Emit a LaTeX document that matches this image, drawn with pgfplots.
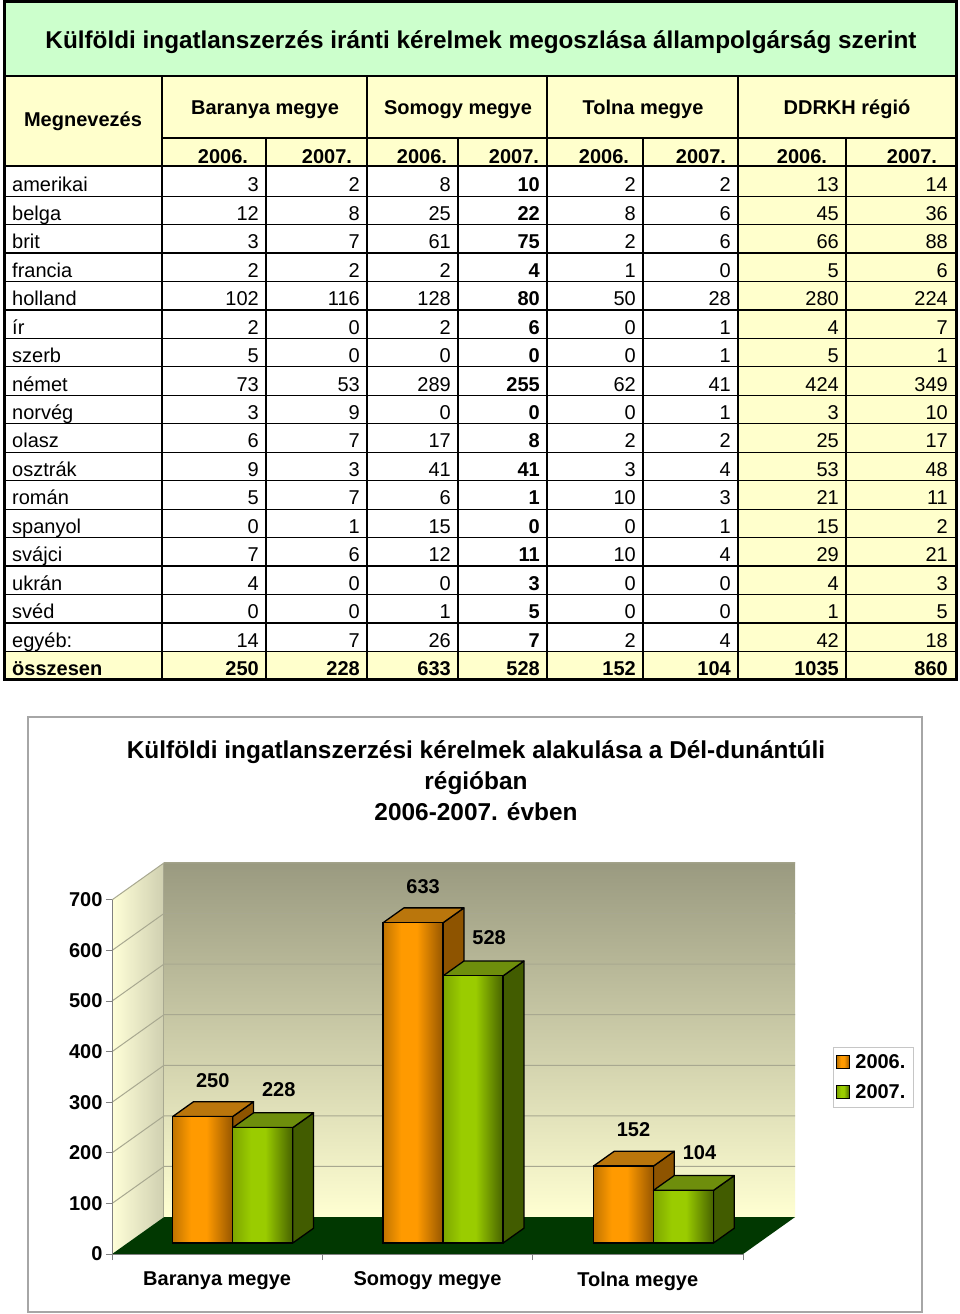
\documentclass[border=0pt]{standalone}
\usepackage{fontspec}
\setmainfont{Liberation Sans}
\usepackage{pgfplots}
\pgfplotsset{compat=1.18}
\definecolor{tgreen}{HTML}{CCFFCC}
\definecolor{tyel}{HTML}{FFFFCC}
\definecolor{wallT}{HTML}{9A9A80}
\definecolor{wallM}{HTML}{E6E6BC}
\definecolor{wallB}{HTML}{FFFFD2}
\definecolor{lwL}{HTML}{FFFFD8}
\definecolor{lwM}{HTML}{F4F4CC}
\definecolor{lwR}{HTML}{CFCFB0}
\definecolor{floorc}{HTML}{013801}
\definecolor{gridc}{HTML}{A8A890}
\definecolor{orL}{HTML}{C07400}
\definecolor{orM}{HTML}{FF9A00}
\definecolor{orR}{HTML}{965600}
\definecolor{orTop}{HTML}{BA760C}
\definecolor{orSide}{HTML}{8E5400}
\definecolor{grL}{HTML}{7DA600}
\definecolor{grM}{HTML}{9ACC00}
\definecolor{grR}{HTML}{466200}
\definecolor{grTop}{HTML}{6E8E0C}
\definecolor{grSide}{HTML}{425C00}

% front faces: dark left edge, wide bright band, dark right edge
\pgfdeclarehorizontalshading{orshade}{100bp}{color(0bp)=(orL); color(25bp)=(orL);
  color(40bp)=(orM); color(53bp)=(orM); color(75bp)=(orR); color(100bp)=(orR)}
\pgfdeclarehorizontalshading{grshade}{100bp}{color(0bp)=(grL); color(25bp)=(grL);
  color(40bp)=(grM); color(52bp)=(grM); color(75bp)=(grR); color(100bp)=(grR)}

\newcommand\bigfont{\fontsize{20}{24}\selectfont}

% side and top faces of one 3D bar: left x, value, top colour, side colour
\newcommand\bartd[4]{%
  \pgfmathsetmacro\xa{#1}%
  \pgfmathsetmacro\xb{#1+0.2853}%
  \pgfmathsetmacro\xc{#1+0.0989}%
  \pgfmathsetmacro\xd{#1+0.3842}%
  \pgfmathsetmacro\ya{#2}%
  \pgfmathsetmacro\yc{#2+29.25}%
  \edef\tmp{%
    \noexpand\addplot[forget plot, fill=#4, draw=black, line width=1.3pt, line join=round]
      coordinates {(\xb,0) (\xd,29.25) (\xd,\yc) (\xb,\ya)} -- cycle;%
    \noexpand\addplot[forget plot, fill=#3, draw=black, line width=1.3pt, line join=round]
      coordinates {(\xa,\ya) (\xb,\ya) (\xd,\yc) (\xc,\yc)} -- cycle;%
  }\tmp}

\begin{document}
\begin{tikzpicture}[x=1pt,y=1pt,every node/.append style={font=\bigfont}]
\fill[white] (0,0) rectangle (960,1314);

% ---------- table ----------
\fill[tgreen] (4,1312) rectangle (956,1238);
\fill[tyel] (4,1238) rectangle (956,1148);
\fill[tyel] (738,1148) rectangle (956,634.1);
\fill[tyel] (4,662.55) rectangle (956,634.1);

\node[anchor=base,font=\fontsize{24.3}{28}\selectfont\bfseries] at (481,1265.3)
  {Külföldi ingatlanszerzés iránti kérelmek megoszlása állampolgárság szerint};
\node[anchor=base,font=\bigfont\bfseries] at (83,1187) {Megnevezés};
\node[anchor=base,font=\bigfont\bfseries] at (265,1199) {Baranya megye};
\node[anchor=base,font=\bigfont\bfseries] at (458,1199) {Somogy megye};
\node[anchor=base,font=\bigfont\bfseries] at (643,1199) {Tolna megye};
\node[anchor=base,font=\bigfont\bfseries] at (847,1199) {DDRKH régió};
\foreach \xx/\yy in {223/2006.,327/2007.,422/2006.,514/2007.,604/2006.,701/2007.,802/2006.,912/2007.}
  \node[anchor=base,inner sep=0,font=\bigfont\bfseries] at (\xx,1150.5) {\yy};

\foreach \n/\a/\b/\c/\d/\e/\f/\g/\h [count=\i from 0] in {
  amerikai/3/2/8/10/2/2/13/14,
  belga/12/8/25/22/8/6/45/36,
  brit/3/7/61/75/2/6/66/88,
  francia/2/2/2/4/1/0/5/6,
  holland/102/116/128/80/50/28/280/224,
  ír/2/0/2/6/0/1/4/7,
  szerb/5/0/0/0/0/1/5/1,
  német/73/53/289/255/62/41/424/349,
  norvég/3/9/0/0/0/1/3/10,
  olasz/6/7/17/8/2/2/25/17,
  osztrák/9/3/41/41/3/4/53/48,
  román/5/7/6/1/10/3/21/11,
  spanyol/0/1/15/0/0/1/15/2,
  svájci/7/6/12/11/10/4/29/21,
  ukrán/4/0/0/3/0/0/4/3,
  svéd/0/0/1/5/0/0/1/5,
  egyéb:/14/7/26/7/2/4/42/18}{
  \pgfmathsetmacro\yb{1314-(196.2+28.45*\i-4.3)}
  \node[anchor=base west,inner sep=0] at (12,\yb) {\n};
  \node[anchor=base east,inner sep=0] at (259,\yb) {\a};
  \node[anchor=base east,inner sep=0] at (360,\yb) {\b};
  \node[anchor=base east,inner sep=0] at (451,\yb) {\c};
  \node[anchor=base east,inner sep=0,font=\bigfont\bfseries] at (540,\yb) {\d};
  \node[anchor=base east,inner sep=0] at (636,\yb) {\e};
  \node[anchor=base east,inner sep=0] at (731,\yb) {\f};
  \node[anchor=base east,inner sep=0] at (839,\yb) {\g};
  \node[anchor=base east,inner sep=0] at (948,\yb) {\h};
}
\begin{scope}[every node/.append style={font=\bigfont\bfseries,inner sep=0}]
  \pgfmathsetmacro\yb{1314-(196.2+28.45*17-4.3)}
  \node[anchor=base west] at (12,\yb) {összesen};
  \foreach \xx/\v in {259/250,360/228,451/633,540/528,636/152,731/104,839/1035,948/860}
    \node[anchor=base east] at (\xx,\yb) {\v};
\end{scope}

\foreach \i in {0,...,16}
  \draw[line width=1.2pt] (4,{1314-(196.2+28.45*\i)}) -- (956,{1314-(196.2+28.45*\i)});
\draw[line width=1.5pt] (162,1176) -- (956,1176);
\draw[line width=2.5pt] (4,1148) -- (956,1148);
\draw[line width=2.5pt] (4,1238) -- (956,1238);
\foreach \xx in {162,367,547,738} \draw[line width=2pt] (\xx,1238) -- (\xx,634);
\foreach \xx in {266,458,643,846} \draw[line width=2pt] (\xx,1176) -- (\xx,634);
\draw[line width=3pt] (4,1312) rectangle (956,634);

% ---------- chart ----------
\draw[gray!70,line width=1.5pt] (28,2) rectangle (922,597);
\begin{scope}[every node/.append style={font=\fontsize{24.4}{28}\selectfont\bfseries}]
  \node[anchor=base] at (476,555) {Külföldi ingatlanszerzési kérelmek alakulása a Dél-dunántúli};
  \node[anchor=base] at (476,524) {régióban};
  \node[anchor=base] at (476,493) {2006-2007. évben};
\end{scope}

\begin{axis}[
  at={(112pt,59.9pt)}, anchor=south west,
  scale only axis, width=631pt, height=354.2pt,
  xmin=-0.5, xmax=2.5, ymin=-21.94, ymax=678.06,
  clip=false, axis on top, no markers,
  axis x line*=bottom, axis y line*=left,
  axis line style={draw=gray, line width=1pt},
  xtick={-0.5,0.5,1.5,2.5}, x tick label as interval,
  xticklabels={Baranya megye, Somogy megye, Tolna megye},
  xticklabel style={yshift=-8pt},
  ytick={-21.94,78.06,178.06,278.06,378.06,478.06,578.06,678.06},
  yticklabels={0,100,200,300,400,500,600,700},
  tick align=outside, major tick length=6pt,
  every tick/.style={draw=gray, line width=1pt},
  ticklabel style={font=\bigfont\bfseries},
  /pgf/number format/assume math mode=true,
  legend style={at={(rel axis cs:1.1426,0.5844)}, anchor=north west,
    draw=gray!45, line width=0.8pt, nodes={font=\bigfont\bfseries, inner xsep=5pt},
    inner xsep=3pt, inner ysep=5pt, row sep=11pt},
  legend cell align=left,
]
% walls and floor
\addplot[forget plot, draw=none, top color=wallT, middle color=wallM, bottom color=wallB]
  coordinates {(-0.2528,51.18) (2.7472,51.18) (2.7472,751.18) (-0.2528,751.18)} -- cycle;
\addplot[forget plot, draw=none, left color=lwL, middle color=lwM, right color=lwR]
  coordinates {(-0.5,-21.94) (-0.2528,51.18) (-0.2528,751.18) (-0.5,678.06)} -- cycle;
\addplot[forget plot, fill=floorc, draw=none]
  coordinates {(-0.5,-21.94) (2.5,-21.94) (2.7472,51.18) (-0.2528,51.18)} -- cycle;
\pgfplotsinvokeforeach{1,...,7}{
  \draw[gridc, line width=1pt] (axis cs:-0.5,{-21.94+100*#1}) -- (axis cs:-0.2528,{51.18+100*#1}) -- (axis cs:2.7472,{51.18+100*#1});
}
\draw[gridc, line width=1pt] (axis cs:-0.2528,51.18) -- (axis cs:-0.2528,751.18);

% bars: 2006 then 2007 for each county
\bartd{-0.2111}{250}{orTop}{orSide}
\addplot[forget plot, ybar, bar width=0.2853, bar shift=0pt, draw=black, line width=1.3pt,
  shading=orshade] coordinates {(-0.0684,250)};
\bartd{0.0742}{228}{grTop}{grSide}
\addplot[forget plot, ybar, bar width=0.2853, bar shift=0pt, draw=black, line width=1.3pt,
  shading=grshade] coordinates {(0.2169,228)};
\bartd{0.7889}{633}{orTop}{orSide}
\addplot[forget plot, ybar, bar width=0.2853, bar shift=0pt, draw=black, line width=1.3pt,
  shading=orshade] coordinates {(0.9316,633)};
\bartd{1.0742}{528}{grTop}{grSide}
\addplot[forget plot, ybar, bar width=0.2853, bar shift=0pt, draw=black, line width=1.3pt,
  shading=grshade] coordinates {(1.2169,528)};
\bartd{1.7889}{152}{orTop}{orSide}
\addplot[forget plot, ybar, bar width=0.2853, bar shift=0pt, draw=black, line width=1.3pt,
  shading=orshade] coordinates {(1.9316,152)};
\bartd{2.0742}{104}{grTop}{grSide}
\addplot[forget plot, ybar, bar width=0.2853, bar shift=0pt, draw=black, line width=1.3pt,
  shading=grshade] coordinates {(2.2169,104)};

% value labels
\addplot[forget plot, draw=none, nodes near coords,
  every node near coord/.append style={anchor=center, xshift=10pt, yshift=36pt, font=\bigfont\bfseries}]
  coordinates {(-0.0684,250) (0.9316,633) (1.9316,152)};
\addplot[forget plot, draw=none, nodes near coords,
  every node near coord/.append style={anchor=center, xshift=16pt, yshift=38pt, font=\bigfont\bfseries}]
  coordinates {(0.2169,228) (1.2169,528) (2.2169,104)};

\addlegendimage{legend image code/.code={\draw[black,line width=1pt,shading=orshade] (0pt,-6pt) rectangle (13pt,7pt);}}
\addlegendentry{2006.}
\addlegendimage{legend image code/.code={\draw[black,line width=1pt,shading=grshade] (0pt,-6pt) rectangle (13pt,7pt);}}
\addlegendentry{2007.}
\end{axis}
\end{tikzpicture}
\end{document}
